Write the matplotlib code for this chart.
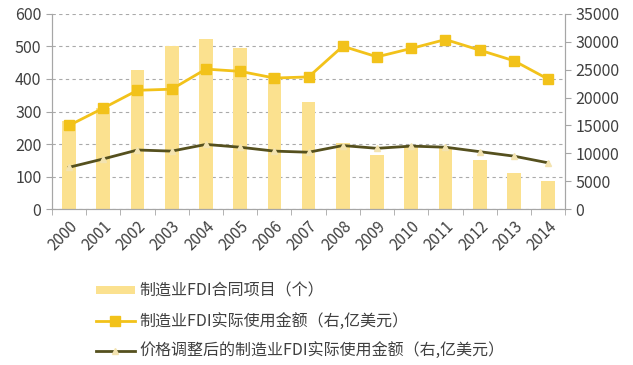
import matplotlib.pyplot as plt
from matplotlib.patches import Patch
from matplotlib.lines import Line2D

plt.rcParams['font.family'] = ['Noto Sans CJK SC', 'DejaVu Sans']

years = ['2000', '2001', '2002', '2003', '2004', '2005', '2006', '2007',
         '2008', '2009', '2010', '2011', '2012', '2013', '2014']
projects = [272, 312, 427, 500, 523, 496, 418, 329, 202, 166, 190, 190, 151, 111, 86]
amount = [15000, 18100, 21300, 21500, 25100, 24700, 23500, 23700,
          29200, 27300, 28800, 30400, 28500, 26600, 23300]
adjusted = [7500, 9000, 10600, 10400, 11600, 11100, 10400, 10200,
            11400, 10900, 11300, 11100, 10300, 9500, 8300]

names = ['制造业FDI合同项目（个）',
         '制造业FDI实际使用金额（右,亿美元）',
         '价格调整后的制造业FDI实际使用金额（右,亿美元）']

bar_c = '#FBE18F'
gold = '#F2C21A'
dark = '#55501E'
axis_c = '#A6A6A6'
txt = '#404040'

fig = plt.figure(figsize=(6.33, 3.65), dpi=100)
ax = fig.add_axes([0.082, 0.427, 0.811, 0.535])
ax2 = ax.twinx()

x = list(range(len(years)))
ax.bar(x, projects, width=0.4, color=bar_c, zorder=2)
ax.set_ylim(0, 600)
ax.set_yticks(range(0, 601, 100))
ax.set_xlim(-0.5, len(years) - 0.5)
ax.grid(axis='y', linestyle=(0, (3, 3)), color='#AAAAAA', linewidth=0.8, zorder=1)
ax.set_axisbelow(True)

ax2.plot(x, amount, color=gold, linewidth=2, marker='s', markersize=7, zorder=3)
ax2.plot(x, adjusted, color=dark, linewidth=2, marker='^', markersize=4,
         markerfacecolor='#F3E3B0', markeredgecolor='#F3E3B0', zorder=3)
ax2.set_ylim(0, 35000)
ax2.set_yticks(range(0, 35001, 5000))

ax.set_xticks(x)
ax.set_xticklabels(years, rotation=45, ha='right', rotation_mode='anchor')
ax.set_xticks([i + 0.5 for i in range(-1, len(years))], minor=True)
ax.tick_params(axis='x', which='major', length=0, pad=6, labelsize=11, labelcolor=txt)
ax.tick_params(axis='x', which='minor', length=4, color=axis_c)
ax.tick_params(axis='y', length=4, color=axis_c, labelsize=11.5, labelcolor=txt)
ax2.tick_params(axis='y', length=4, color=axis_c, labelsize=11.5, labelcolor=txt)

for a in (ax, ax2):
    a.spines['top'].set_visible(False)
    for s in ('left', 'right', 'bottom'):
        a.spines[s].set_color(axis_c)

handles = [Patch(facecolor=bar_c, edgecolor='none'),
           Line2D([], [], color=gold, linewidth=2, marker='s', markersize=7),
           Line2D([], [], color=dark, linewidth=2, marker='^', markersize=4,
                  markerfacecolor='#F3E3B0', markeredgecolor='#F3E3B0')]
fig.legend(handles, names, loc='upper left', bbox_to_anchor=(0.152, 0.225),
           frameon=False, fontsize=11.5, labelcolor=txt, handlelength=2.4,
           handleheight=0.4, handletextpad=0.3, labelspacing=0.8,
           borderaxespad=0, borderpad=0)

fig.savefig('out.png', dpi=100)
